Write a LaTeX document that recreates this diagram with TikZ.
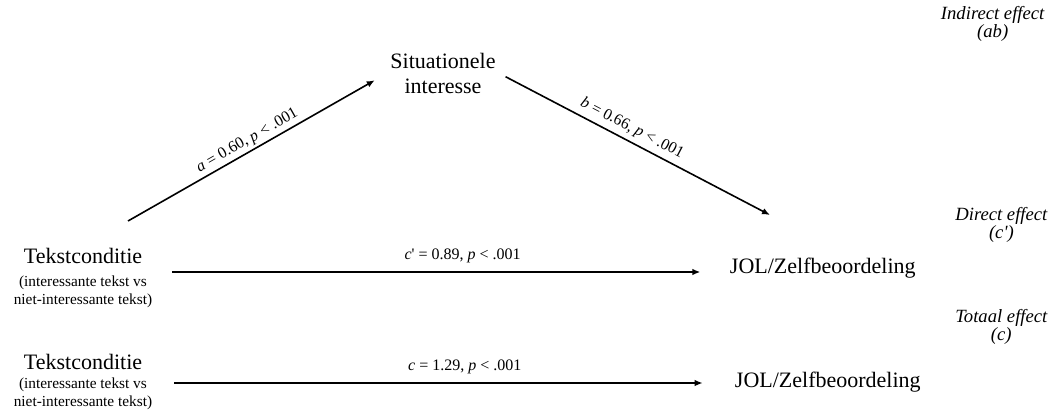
\documentclass[tikz,border=0pt]{standalone}
\usepackage{fontspec}
\setmainfont{Liberation Serif}
\usepackage{tikz}
\usetikzlibrary{arrows.meta,positioning,calc}
\tikzset{
  var/.style={inner sep=2pt, align=center, font=\fontsize{16.5}{18.75}\selectfont},
  sub/.style={inner sep=1pt, align=center, font=\fontsize{11.5}{13}\selectfont},
  lbl/.style={inner sep=2pt, font=\fontsize{12}{14}\selectfont},
  eff/.style={inner sep=1pt, align=center, font=\fontsize{14}{12.5}\selectfont\itshape},
  pijl/.style={-{Latex[length=6pt,width=5pt]}, line width=1.2pt, draw=black},
}

\begin{document}
\begin{tikzpicture}[x=0.75pt,y=-0.75pt]
  \useasboundingbox (0,0) rectangle (1053,410);
  % mediator
  \node[var](med) at (443,73){Situationele\\interesse};
  % direct model
  \node[var](x1) at (83,256){Tekstconditie};
  \node[sub,below=6pt of x1](x1s){(interessante tekst vs\\niet-interessante tekst)};
  \node[var,anchor=base west](y1) at (727,273){JOL/Zelfbeoordeling};
  % total model
  \node[var](x2) at (83,362){Tekstconditie};
  \node[sub,below=3pt of x2](x2s){(interessante tekst vs\\niet-interessante tekst)};
  \node[var,anchor=base west](y2) at (732,387){JOL/Zelfbeoordeling};
  % effect labels
  \node[eff,anchor=east](ind) at (1046,24){Indirect effect\\(ab)};
  \node[eff,anchor=east](dir) at (1049,225){Direct effect\\(c\textquotesingle)};
  \node[eff,anchor=east](tot) at (1049,327){Totaal effect\\(c)};
  % arrows
  \coordinate (a0) at (128,221);
  \coordinate (b1) at (770,215);
  \coordinate (c0) at (172,272);
  \coordinate (d0) at (174,383);
  \draw[pijl,shorten >=11pt](a0)--(med.west) node[lbl,sloped,above,pos=0.48]{\textit{a} = 0.60, \textit{p} < .001};
  \draw[pijl,shorten <=6pt](med.east)--(b1) node[lbl,sloped,above=1.5pt,pos=0.47]{\textit{b} = 0.66, \textit{p} < .001};
  \draw[pijl](c0)--([xshift=-20pt]c0 -| y1.west) node[lbl,above=4pt,pos=0.55]{\textit{c}\textquotesingle{} = 0.89, \textit{p} < .001};
  \draw[pijl](d0)--([xshift=-22pt]d0 -| y2.west) node[lbl,above=4pt,pos=0.55]{\textit{c} = 1.29, \textit{p} < .001};
\end{tikzpicture}
\end{document}
